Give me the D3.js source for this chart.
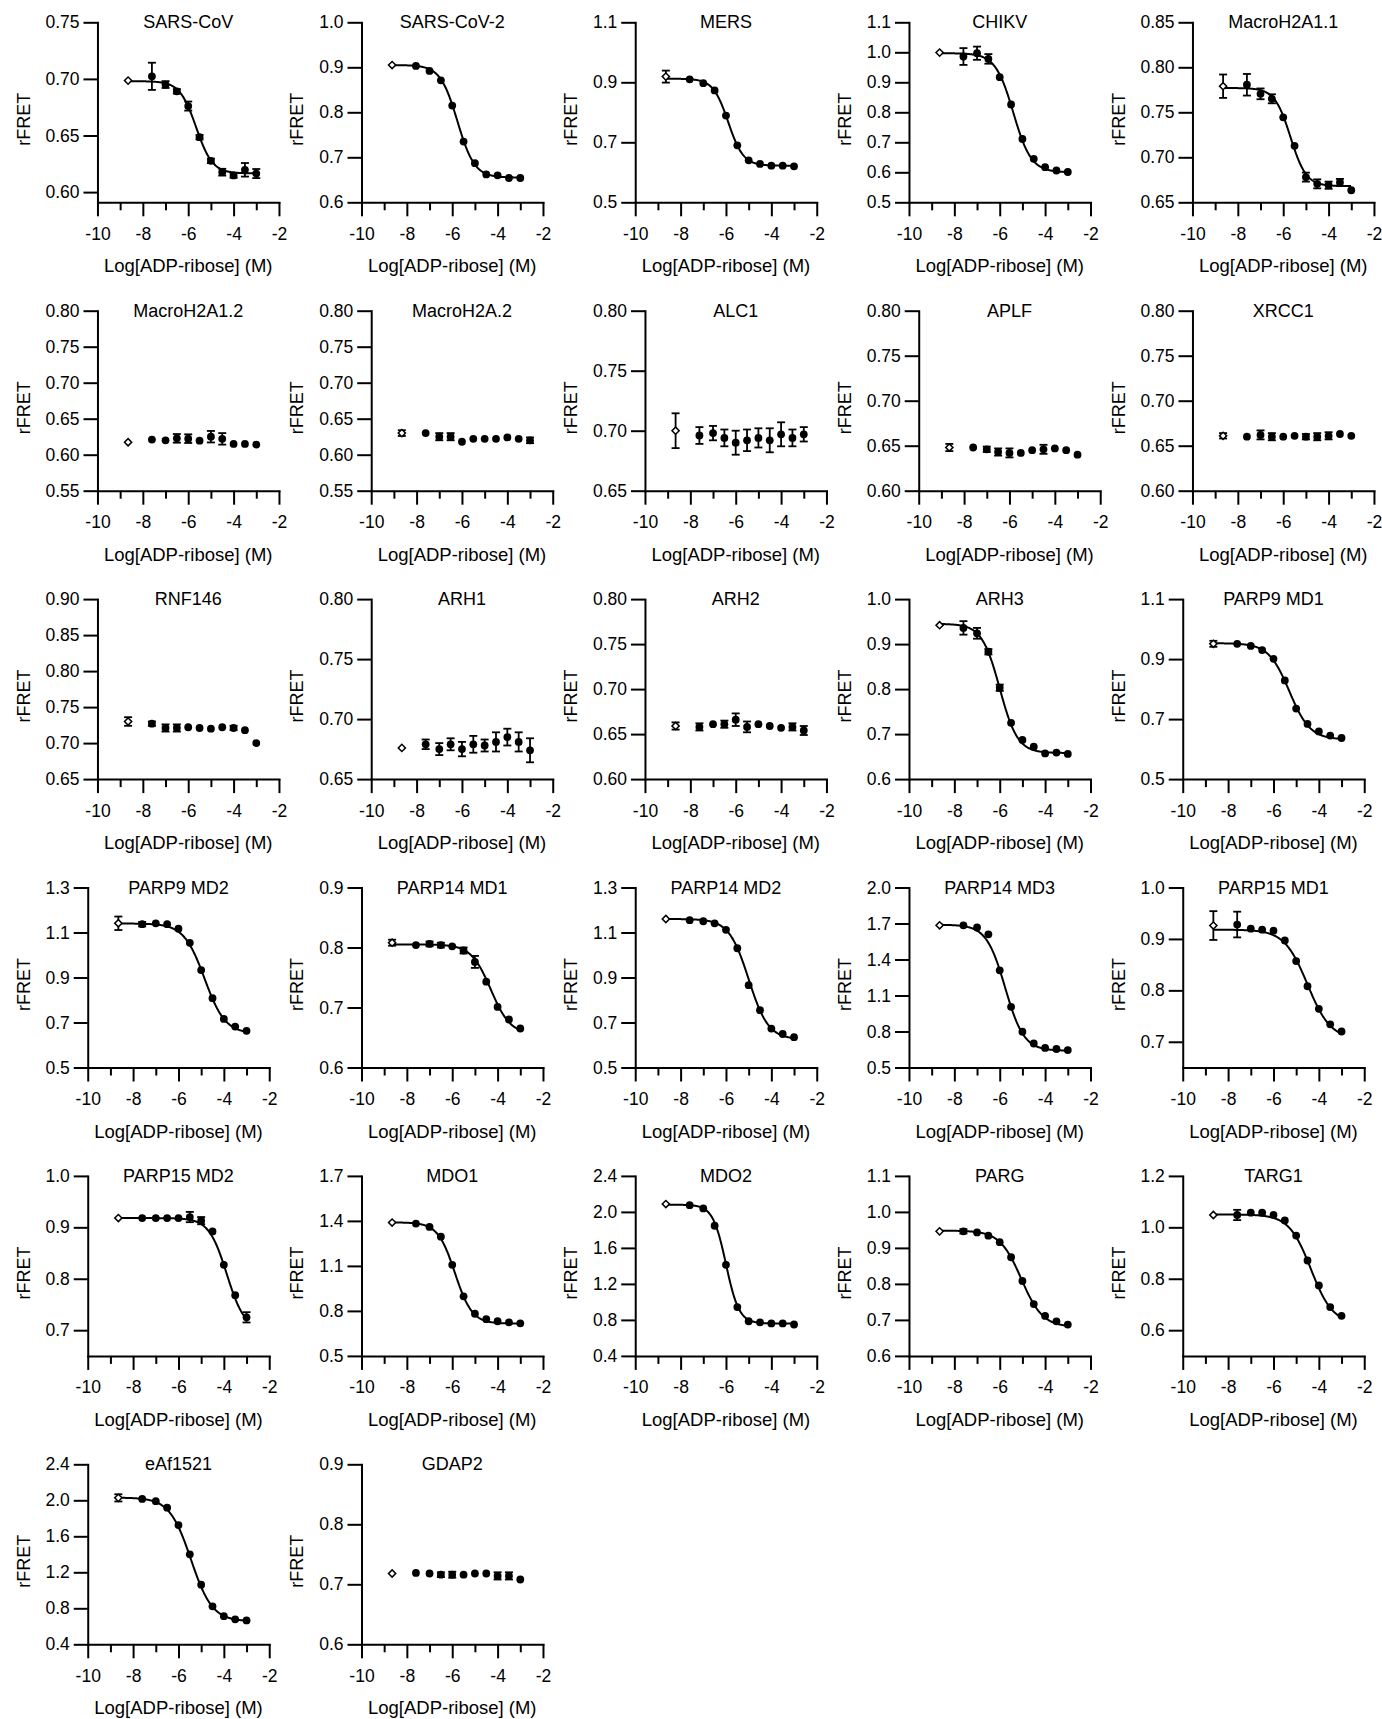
<!DOCTYPE html>
<html>
<head>
<meta charset="utf-8">
<script src="https://cdn.jsdelivr.net/npm/d3@7"></script>
<style>
body { margin: 0; background: #fff; }
svg text { font-family: "Liberation Sans", Arial, Helvetica, sans-serif; fill: #000; }
</style>
</head>
<body>
<svg id="chart" width="1382" height="1719"></svg>
<script>

// panel names, in reading order
var titles = ["SARS-CoV", "SARS-CoV-2", "MERS", "CHIKV", "MacroH2A1.1",
  "MacroH2A1.2", "MacroH2A.2", "ALC1", "APLF", "XRCC1",
  "RNF146", "ARH1", "ARH2", "ARH3", "PARP9 MD1",
  "PARP9 MD2", "PARP14 MD1", "PARP14 MD2", "PARP14 MD3", "PARP15 MD1",
  "PARP15 MD2", "MDO1", "MDO2", "PARG", "TARG1",
  "eAf1521", "GDAP2"];

// log concentration of each dilution (first one = open diamond)
var log_conc = [-8.65, -7.6, -7, -6.5, -6, -5.5, -5, -4.5, -4, -3.5, -3];

var x_ticks = [-10, -8, -6, -4, -2];
var x_minor = [-9, -7, -5, -3];

var y_tick_labels = [
  ["0.60", "0.65", "0.70", "0.75"],
  ["0.6", "0.7", "0.8", "0.9", "1.0"],
  ["0.5", "0.7", "0.9", "1.1"],
  ["0.5", "0.6", "0.7", "0.8", "0.9", "1.0", "1.1"],
  ["0.65", "0.70", "0.75", "0.80", "0.85"],
  ["0.55", "0.60", "0.65", "0.70", "0.75", "0.80"],
  ["0.55", "0.60", "0.65", "0.70", "0.75", "0.80"],
  ["0.65", "0.70", "0.75", "0.80"],
  ["0.60", "0.65", "0.70", "0.75", "0.80"],
  ["0.60", "0.65", "0.70", "0.75", "0.80"],
  ["0.65", "0.70", "0.75", "0.80", "0.85", "0.90"],
  ["0.65", "0.70", "0.75", "0.80"],
  ["0.60", "0.65", "0.70", "0.75", "0.80"],
  ["0.6", "0.7", "0.8", "0.9", "1.0"],
  ["0.5", "0.7", "0.9", "1.1"],
  ["0.5", "0.7", "0.9", "1.1", "1.3"],
  ["0.6", "0.7", "0.8", "0.9"],
  ["0.5", "0.7", "0.9", "1.1", "1.3"],
  ["0.5", "0.8", "1.1", "1.4", "1.7", "2.0"],
  ["0.7", "0.8", "0.9", "1.0"],
  ["0.7", "0.8", "0.9", "1.0"],
  ["0.5", "0.8", "1.1", "1.4", "1.7"],
  ["0.4", "0.8", "1.2", "1.6", "2.0", "2.4"],
  ["0.6", "0.7", "0.8", "0.9", "1.0", "1.1"],
  ["0.6", "0.8", "1.0", "1.2"],
  ["0.4", "0.8", "1.2", "1.6", "2.0", "2.4"],
  ["0.6", "0.7", "0.8", "0.9"]
];

// where the y axis starts (bottom), sometimes under the first tick
var y_bottom = [0.591, 0.6, 0.5, 0.5, 0.65, 0.55, 0.55, 0.65, 0.60, 0.60,
  0.65, 0.65, 0.60, 0.6, 0.5, 0.5, 0.6, 0.5, 0.5, 0.65,
  0.65, 0.5, 0.4, 0.6, 0.5, 0.4, 0.6];

// mean rFRET
var means = [
  [0.6985, 0.7023, 0.695, 0.689, 0.676, 0.6485, 0.6276, 0.6176, 0.6147, 0.6197, 0.6164],
  [0.905, 0.903, 0.892, 0.871, 0.815, 0.735, 0.687, 0.662, 0.660, 0.654, 0.654],
  [0.919, 0.910, 0.897, 0.873, 0.789, 0.690, 0.640, 0.628, 0.622, 0.622, 0.620],
  [0.999, 0.986, 0.997, 0.978, 0.917, 0.826, 0.711, 0.645, 0.617, 0.606, 0.601],
  [0.779, 0.7806, 0.7705, 0.765, 0.7444, 0.7127, 0.678, 0.6705, 0.669, 0.672, 0.6634],
  [0.6173, 0.621, 0.620, 0.6227, 0.6223, 0.6195, 0.625, 0.622, 0.615, 0.615, 0.614],
  [0.630, 0.630, 0.625, 0.625, 0.618, 0.622, 0.622, 0.622, 0.624, 0.622, 0.620],
  [0.700, 0.696, 0.698, 0.694, 0.690, 0.692, 0.694, 0.692, 0.697, 0.694, 0.697],
  [0.648, 0.648, 0.646, 0.643, 0.642, 0.642, 0.645, 0.646, 0.647, 0.645, 0.640],
  [0.661, 0.660, 0.662, 0.660, 0.660, 0.661, 0.660, 0.660, 0.661, 0.663, 0.661],
  [0.730, 0.727, 0.721, 0.721, 0.722, 0.721, 0.720, 0.722, 0.721, 0.718, 0.700],
  [0.676, 0.679, 0.675, 0.679, 0.675, 0.679, 0.678, 0.681, 0.685, 0.681, 0.674],
  [0.659, 0.658, 0.661, 0.661, 0.666, 0.658, 0.661, 0.659, 0.657, 0.658, 0.654],
  [0.942, 0.936, 0.924, 0.883, 0.803, 0.725, 0.687, 0.672, 0.657, 0.659, 0.656],
  [0.951, 0.951, 0.944, 0.930, 0.901, 0.829, 0.735, 0.684, 0.659, 0.645, 0.637],
  [1.141, 1.137, 1.141, 1.137, 1.117, 1.054, 0.933, 0.808, 0.716, 0.682, 0.663],
  [0.808, 0.804, 0.806, 0.804, 0.802, 0.795, 0.776, 0.743, 0.701, 0.680, 0.665],
  [1.160, 1.155, 1.150, 1.141, 1.112, 1.030, 0.866, 0.755, 0.673, 0.649, 0.635],
  [1.685, 1.685, 1.667, 1.610, 1.310, 1.006, 0.798, 0.700, 0.663, 0.654, 0.645],
  [0.926, 0.928, 0.920, 0.918, 0.916, 0.897, 0.857, 0.808, 0.764, 0.734, 0.720],
  [0.918, 0.918, 0.918, 0.918, 0.918, 0.920, 0.913, 0.892, 0.827, 0.768, 0.725],
  [1.389, 1.382, 1.360, 1.295, 1.107, 0.897, 0.781, 0.745, 0.731, 0.724, 0.717],
  [2.087, 2.075, 2.039, 1.846, 1.412, 0.942, 0.785, 0.773, 0.761, 0.761, 0.749],
  [0.946, 0.946, 0.943, 0.934, 0.916, 0.874, 0.808, 0.744, 0.711, 0.696, 0.687],
  [1.048, 1.048, 1.057, 1.057, 1.048, 1.027, 0.968, 0.871, 0.774, 0.690, 0.656],
  [2.027, 2.015, 1.990, 1.918, 1.725, 1.400, 1.063, 0.822, 0.713, 0.677, 0.665],
  [0.718, 0.719, 0.718, 0.716, 0.716, 0.716, 0.718, 0.718, 0.714, 0.714, 0.708]
];

// SD (0 = bar hidden behind the symbol)
var sds = [
  [0, 0.012, 0.003, 0.002, 0.004, 0.002, 0.002, 0.003, 0.002, 0.006, 0.004],
  [0, 0, 0, 0, 0, 0, 0, 0, 0, 0, 0],
  [0.02, 0, 0, 0, 0, 0, 0, 0, 0, 0, 0],
  [0, 0.028, 0.022, 0.016, 0, 0, 0, 0, 0, 0, 0],
  [0.013, 0.012, 0.006, 0.005, 0, 0, 0.005, 0.005, 0.004, 0.004, 0],
  [0, 0, 0, 0.006, 0.006, 0, 0.008, 0.008, 0, 0, 0],
  [0.004, 0, 0.005, 0.005, 0, 0, 0, 0, 0, 0, 0.004],
  [0.0145, 0.007, 0.006, 0.007, 0.010, 0.009, 0.008, 0.010, 0.010, 0.007, 0.006],
  [0.004, 0, 0.003, 0.004, 0.005, 0, 0, 0.005, 0, 0, 0],
  [0.003, 0, 0.005, 0.004, 0, 0, 0.003, 0.004, 0.004, 0, 0],
  [0.006, 0.003, 0.005, 0.005, 0, 0, 0, 0, 0.003, 0, 0],
  [0, 0.004, 0.005, 0.005, 0.006, 0.007, 0.005, 0.008, 0.007, 0.008, 0.010],
  [0.004, 0.004, 0, 0.004, 0.007, 0.006, 0, 0, 0, 0.004, 0.005],
  [0, 0.015, 0.012, 0.006, 0.007, 0, 0, 0, 0, 0, 0],
  [0.010, 0, 0, 0, 0, 0, 0, 0, 0, 0, 0],
  [0.030, 0.010, 0, 0, 0, 0, 0, 0, 0, 0, 0],
  [0.005, 0, 0.004, 0.004, 0, 0.005, 0.010, 0, 0, 0, 0],
  [0, 0, 0, 0, 0, 0, 0, 0, 0, 0, 0],
  [0, 0, 0, 0, 0, 0, 0, 0, 0, 0, 0],
  [0.028, 0.025, 0, 0, 0, 0, 0, 0, 0, 0, 0],
  [0, 0, 0, 0, 0, 0.010, 0.007, 0, 0, 0, 0.010],
  [0, 0, 0, 0, 0, 0, 0, 0, 0, 0, 0],
  [0, 0, 0, 0, 0, 0, 0, 0, 0, 0, 0],
  [0, 0.006, 0, 0, 0, 0, 0, 0, 0, 0, 0],
  [0, 0.020, 0, 0, 0, 0, 0, 0, 0, 0, 0],
  [0.040, 0, 0, 0, 0, 0, 0, 0, 0, 0, 0],
  [0, 0, 0, 0.004, 0.005, 0, 0, 0, 0.006, 0.006, 0]
];

// 4PL fit (null = no fit drawn)
var fit_top =    [0.698, 0.905, 0.912, 0.997, 0.777, null, null, null, null, null, null, null, null,
  0.945, 0.953, 1.14, 0.805, 1.16, 1.69, 0.918, 0.918, 1.39, 2.08, 0.948, 1.05, 2.03, null];
var fit_bottom = [0.6165, 0.655, 0.622, 0.600, 0.668, null, null, null, null, null, null, null, null,
  0.658, 0.632, 0.65, 0.655, 0.625, 0.64, 0.705, 0.70, 0.715, 0.76, 0.68, 0.625, 0.655, null];
var fit_ec50 =   [-5.65, -5.77, -5.9, -5.4, -5.68, null, null, null, null, null, null, null, null,
  -6.0, -5.3, -4.85, -4.3, -5.0, -5.76, -4.5, -3.87, -5.88, -6.0, -5.05, -4.35, -5.45, null];
var fit_hill =   [1.2, 1.15, 1.3, 1.1, 1.25, null, null, null, null, null, null, null, null,
  1.1, 0.95, 0.95, 1.0, 1.0, 1.05, 0.85, 1.1, 1.15, 1.5, 0.92, 0.9, 0.92, null];


var nb_cols = 5;
var col_step = 273.75;
var row_step = 288.4;
var plot_w = 181.5;
var plot_h = 180;
var first_axis_y = 202.3;
var col_base = 45.4;
var tick_font = 17.5;

var svg = d3.select("#chart");
svg.append("rect").attr("width", 1382).attr("height", 1719).attr("fill", "#fff");

function style_axis(ax) {
  ax.attr("font-family", null).attr("font-size", null);
  ax.selectAll("text").style("font-size", tick_font + "px");
  ax.selectAll("line").attr("stroke", "#000").attr("stroke-width", 2);
  ax.select(".domain").attr("stroke", "#000").attr("stroke-width", 2).attr("stroke-linecap", "square");
}

function draw_panel(p) {
  var col = p % nb_cols;
  var row = Math.floor(p / nb_cols);
  var g = svg.append("g");

  var tick_vals = y_tick_labels[p].map(Number);
  var labels = y_tick_labels[p];

  // widest tick label decides where the y axis sits
  var probe = g.append("text").style("font-size", tick_font + "px");
  var lw = 0;
  labels.forEach(function(t) {
    probe.text(t);
    lw = Math.max(lw, probe.node().getComputedTextLength());
  });
  probe.remove();

  var x0 = col_base + col * col_step + lw + 18;
  var y1 = first_axis_y + row * row_step;
  var y0 = y1 - plot_h;

  var x = d3.scaleLinear().domain([-10, -2]).range([x0, x0 + plot_w]);
  var y = d3.scaleLinear().domain([y_bottom[p], tick_vals[tick_vals.length - 1]]).range([y1, y0]);

  // axes
  var yax = g.append("g").attr("transform", "translate(" + x0 + ",0)")
    .call(d3.axisLeft(y).tickValues(tick_vals)
      .tickFormat(function(d, i) { return labels[i]; })
      .tickSize(14).tickPadding(4).tickSizeOuter(0));
  style_axis(yax);

  var xax = g.append("g").attr("transform", "translate(0," + y1 + ")")
    .call(d3.axisBottom(x).tickValues(x_ticks)
      .tickFormat(function(d) { return "-" + Math.abs(d); })
      .tickSize(14).tickPadding(11).tickSizeOuter(0));
  style_axis(xax);

  var xmin = g.append("g").attr("transform", "translate(0," + y1 + ")")
    .call(d3.axisBottom(x).tickValues(x_minor).tickFormat("").tickSize(8).tickSizeOuter(0));
  xmin.select(".domain").remove();
  style_axis(xmin);

  // texts
  g.append("text")
    .attr("x", x0 + plot_w / 2).attr("y", y0 + 6)
    .attr("text-anchor", "middle").style("font-size", "18px")
    .text(titles[p]);

  g.append("text")
    .attr("transform", "translate(" + (29.5 + col * col_step) + "," + ((y0 + y1) / 2 + 7) + ") rotate(-90)")
    .attr("text-anchor", "middle").style("font-size", "18px")
    .text("rFRET");

  g.append("text")
    .attr("x", x0 + plot_w / 2).attr("y", y1 + 70)
    .attr("text-anchor", "middle").style("font-size", "18.5px")
    .text("Log[ADP-ribose] (M)");

  // fitted curve
  if (fit_top[p] !== null) {
    var f_top = fit_top[p], f_bot = fit_bottom[p], f_c50 = fit_ec50[p], f_hill = fit_hill[p];
    var xs = d3.range(log_conc[0], log_conc[log_conc.length - 1] + 0.001, 0.02);
    var line = d3.line()
      .x(function(d) { return x(d); })
      .y(function(d) { return y(f_bot + (f_top - f_bot) / (1 + Math.pow(10, (d - f_c50) * f_hill))); });
    g.append("path").datum(xs)
      .attr("d", line).attr("fill", "none")
      .attr("stroke", "#000").attr("stroke-width", 2);
  }

  // error bars
  var pts = log_conc.map(function(lc, i) { return { lc: lc, m: means[p][i], sd: sds[p][i] }; });
  var eb = g.append("g").attr("stroke", "#000").attr("stroke-width", 1.8);
  pts.filter(function(d) { return d.sd > 0; }).forEach(function(d) {
    var cx = x(d.lc), ya = y(d.m - d.sd), yb = y(d.m + d.sd);
    eb.append("line").attr("x1", cx).attr("x2", cx).attr("y1", ya).attr("y2", yb);
    eb.append("line").attr("x1", cx - 4).attr("x2", cx + 4).attr("y1", ya).attr("y2", ya);
    eb.append("line").attr("x1", cx - 4).attr("x2", cx + 4).attr("y1", yb).attr("y2", yb);
  });

  // symbols
  g.selectAll("circle.pt").data(pts.slice(1)).enter().append("circle")
    .attr("class", "pt")
    .attr("cx", function(d) { return x(d.lc); })
    .attr("cy", function(d) { return y(d.m); })
    .attr("r", 3.9).attr("fill", "#000");

  g.append("path")
    .attr("d", d3.symbol().type(d3.symbolSquare).size(26)())
    .attr("transform", "translate(" + x(pts[0].lc) + "," + y(pts[0].m) + ") rotate(45)")
    .attr("fill", "#fff").attr("stroke", "#000").attr("stroke-width", 1.5);
}

for (var p = 0; p < titles.length; p++) {
  draw_panel(p);
}
</script>
</body>
</html>
